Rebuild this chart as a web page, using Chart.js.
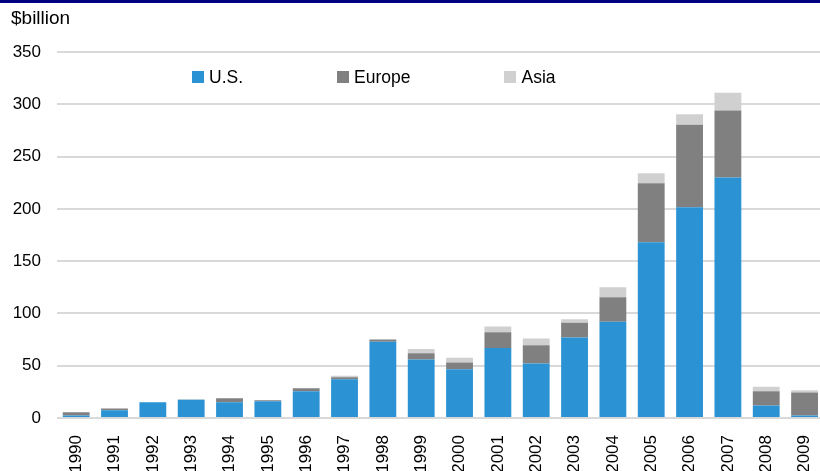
<!DOCTYPE html>
<html>
<head>
<meta charset="utf-8">
<script src="https://cdn.jsdelivr.net/npm/chart.js@4"></script>
<style>
  html, body { margin: 0; padding: 0; background: #fff; overflow: hidden; }
  body { width: 820px; height: 471px; position: relative; font-family: "Liberation Sans", Arial, sans-serif; }
  .topline { position: absolute; left: 0; top: 0; width: 820px; height: 3px; background: #000080; }
  .unit { position: absolute; left: 11px; top: 7px; font-size: 19px; line-height: 22px; color: #000; }
  .wrap { position: absolute; left: 0; top: 0; width: 834px; height: 471px; }
  #legend { position: absolute; left: 192px; top: 67px; display: flex; gap: 94px; font-size: 17.5px; line-height: 20px; color: #000; }
  #legend span.item { display: flex; align-items: center; }
  #legend i { display: inline-block; width: 12px; height: 12px; margin-right: 5px; }
</style>
</head>
<body>
<div class="wrap"><canvas id="dealChart" width="834" height="471"></canvas></div>
<div class="topline"></div>
<div class="unit">$billion</div>
<div id="legend"></div>
<script>
const years = ['1990', '1991', '1992', '1993', '1994', '1995', '1996', '1997', '1998', '1999',
               '2000', '2001', '2002', '2003', '2004', '2005', '2006', '2007', '2008', '2009'];

const us     = [2.5, 7.5, 15, 17.5, 15, 16, 25.5, 37, 73, 56, 46.5, 67, 52, 77, 92, 168, 201.5, 230, 12, 2.5];
const europe = [3, 1.5, 0, 0.3, 4, 1, 3, 2, 2, 6, 6.5, 15, 17.5, 14, 23.5, 56.5, 79, 64, 13.5, 22];
const asia   = [0, 0, 0, 0, 0, 0, 0, 1.5, 0, 4, 4.5, 5.5, 6.5, 3.5, 9.5, 9.5, 10, 17, 4.5, 2];

const yTicks = [0, 50, 100, 150, 200, 250, 300, 350];

const data = [
    { label: 'U.S.', data: us, backgroundColor: '#2b93d4' },
    { label: 'Europe', data: europe, backgroundColor: '#808080' },
    { label: 'Asia', data: asia, backgroundColor: '#d0d0d0' }
];

const config = {
    type: 'bar',
    data: {
        labels: years,
        datasets: data.map(d => Object.assign({ borderWidth: 0, categoryPercentage: 1, barPercentage: 0.7 }, d))
    },
    options: {
        responsive: false,
        animation: false,
        layout: { padding: { left: 12, top: 52, right: 1, bottom: 0 } },
        plugins: {
            legend: { display: false },
            tooltip: { enabled: false }
        },
        scales: {
            x: {
                stacked: true,
                grid: { display: false },
                border: { display: false },
                afterFit: axis => { axis.height = 53; },
                ticks: {
                    color: '#000',
                    font: { family: 'Liberation Sans', size: 17 },
                    maxRotation: 90,
                    minRotation: 90,
                    padding: 9,
                    autoSkip: false
                }
            },
            y: {
                stacked: true,
                min: 0,
                max: 350,
                afterBuildTicks: axis => { axis.ticks = yTicks.map(v => ({ value: v })); },
                afterFit: axis => { axis.width = 45; },
                grid: { color: '#d9d9d9', lineWidth: 2, drawTicks: false },
                border: { display: false },
                ticks: {
                    color: '#000',
                    font: { family: 'Liberation Sans', size: 17 },
                    padding: 16
                }
            }
        }
    }
};

const dealChart = new Chart(document.getElementById('dealChart').getContext('2d'), config);

// legend built from the datasets
const legend = document.getElementById('legend');
data.forEach(d => {
    const item = document.createElement('span');
    item.className = 'item';
    const box = document.createElement('i');
    box.style.background = d.backgroundColor;
    item.appendChild(box);
    item.appendChild(document.createTextNode(d.label));
    legend.appendChild(item);
});
</script>
</body>
</html>
